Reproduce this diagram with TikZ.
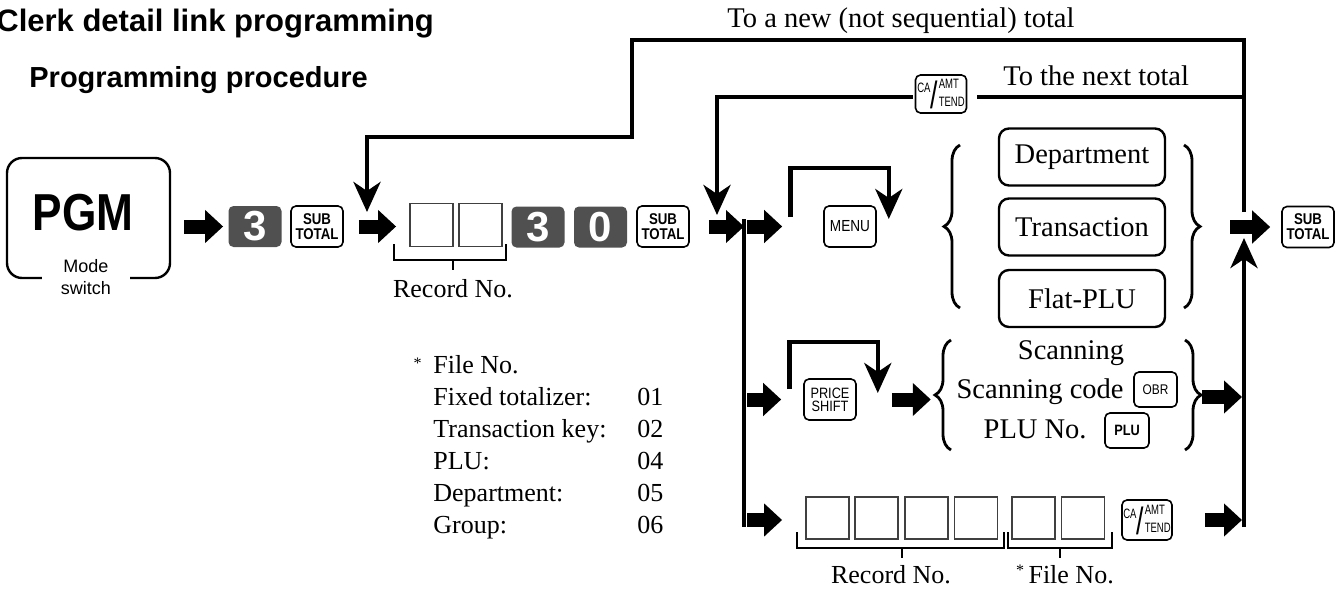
\documentclass[tikz,border=0pt]{standalone}
\usepackage{fontspec}
\setmainfont{Liberation Serif}
\setsansfont{Liberation Sans}
\newfontfamily\condsans[FakeStretch=0.85]{Liberation Sans}
\newfontfamily\narrowsans[FakeStretch=0.7]{Liberation Sans}
\usetikzlibrary{arrows.meta,decorations.pathreplacing}
\definecolor{keygray}{RGB}{80,80,80}
% CA/AMT/TEND key face
\newcommand{\catend}{\raisebox{7.2pt}{CA}\kern0.2pt\raisebox{-0.8pt}{\fontsize{19}{19}\selectfont/}\kern0.2pt\shortstack[l]{AMT\\[1.2pt]TEND}}
\begin{document}
\begin{tikzpicture}[x=0.5pt,y=-0.5pt,
  every node/.style={inner sep=0pt},
  flow/.style={line width=2.3pt},
  arrowend/.style={-{Stealth[length=15pt,width=13.5pt,inset=4.5pt]}},
  fat/.style={line width=7pt,-{Triangle[length=9pt,width=16pt]}},
  keycap/.style={draw,line width=0.8pt,rounded corners=2.5pt,fill=white,minimum width=26pt,minimum height=20.5pt,align=center},
  subfont/.style={font=\condsans\bfseries\fontsize{7.8}{7.6}\selectfont},
  cafont/.style={font=\narrowsans\fontsize{6.8}{6.8}\selectfont},
  numkey/.style={fill=keygray,rounded corners=2.5pt,minimum width=26.5pt,minimum height=20.5pt,text=white,font=\sffamily\bfseries\fontsize{21}{21}\selectfont},
  entrybox/.style={draw=black!75,line width=0.9pt,minimum width=21.5pt,minimum height=21.5pt},
  choice/.style={draw,line width=1.2pt,rounded corners=5pt,minimum width=83pt,minimum height=28.5pt,font=\fontsize{14.25}{17}\selectfont},
  bracket/.style={line width=1.1pt},
  curly/.style={decorate,decoration={brace,amplitude=8pt},line width=1.4pt},
  bigtext/.style={font=\fontsize{14.25}{17}\selectfont},
  smalltext/.style={font=\fontsize{13}{16}\selectfont}]
\useasboundingbox (0,0) rectangle (1335,589);

% headings
\node[anchor=base west,font=\sffamily\bfseries\fontsize{15.5}{18}\selectfont] (title) at (-4,32) {Clerk detail link programming};
\node[anchor=base west,font=\sffamily\bfseries\fontsize{14.5}{17}\selectfont] (subtitle) at (29,87) {Programming procedure};

% mode switch
\node[draw,line width=1.2pt,rounded corners=7.5pt,minimum width=81.5pt,minimum height=60pt] (pgm) at (88.5,218) {};
\node[font=\condsans\bfseries\fontsize{26}{26}\selectfont] (pgmtxt) at (83,212.5) {PGM};
\node[fill=white,align=center,minimum width=44pt,inner ysep=1pt,font=\sffamily\fontsize{9}{11}\selectfont] (mode) at (86,277) {Mode\\switch};

% first row
\node[numkey] (k3) at (255,226.5) {3};
\node[keycap,subfont] (sub1) at (317,226.5) {SUB\\TOTAL};
\node[entrybox] (rec1) at (431.5,225) {};
\node[entrybox] (rec2) at (480.5,225) {};
\node[numkey] (k3b) at (538,227) {3};
\node[numkey] (k0) at (600.5,227) {0};
\node[keycap,subfont] (sub2) at (663,226.5) {SUB\\TOTAL};
\draw[bracket] (394,244) |- (506,260) -- (506,244);
\draw[bracket] (453,260) -- (453,270);
\node[smalltext,anchor=base] (recno1) at (453,297) {Record No.};

\draw[fat] ([xshift=6.5pt]pgm.east |- k3) -- ([xshift=-2.5pt]k3.west);
\draw[fat] ([xshift=7.5pt]sub1.east) -- ([xshift=-6.5pt]rec1.west |- sub1);

% junctions
\coordinate (jtop) at (744,219);
\coordinate (jbot) at (744,527);
\coordinate (rtop) at (1244,40);
\coordinate (rdown) at (1244,212);
\coordinate (rup) at (1244,238);
\coordinate (rbot) at (1244,527);
\coordinate (steptop) at (632,40);
\coordinate (stepbot) at (632,137);
\coordinate (ltop) at (367,137);
\coordinate (lend) at (367,212);
\coordinate (rnext) at (1244,97);
\coordinate (nxcorner) at (717,97);
\coordinate (nxend) at (717,215);

\draw[fat] ([xshift=9.5pt]sub2.east) -- (jtop |- sub2);
\draw[flow] (jtop) -- (jbot);
\draw[flow,arrowend] (rdown) -- (rtop) -- (steptop) -- (stepbot) -- (ltop) -- (lend);
\draw[flow,arrowend] (rbot) -- (rup);

% next total
\node[keycap,cafont,minimum width=25.5pt,minimum height=19pt] (catop) at (941,94) {\catend};
\draw[flow] (rnext) -- ([xshift=5pt]catop.east |- rnext);
\draw[flow,arrowend] ([xshift=-1pt]catop.west |- rnext) -- (nxcorner) -- (nxend);
\node[bigtext,anchor=base] (newtot) at (901,27) {To a new (not sequential) total};
\node[bigtext,anchor=base west] (nexttot) at (1003,85) {To the next total};

% menu branch
\node[keycap,font=\condsans\fontsize{8}{8}\selectfont] (menu) at (850,226.5) {MENU};
\draw[fat] ([xshift=1.5pt]jtop |- menu) -- ([xshift=-20.5pt]menu.west);
\draw[flow,arrowend] ([xshift=-16.5pt,yshift=4.75pt]menu.west) -- ++(0,-49) -| ([xshift=6pt,yshift=3.75pt]menu.east);
\draw[curly] (960,308) -- (960,145);
\node[choice] (dept) at (1082,157) {Department};
\node[choice] (trans) at (1082,227) {Transaction};
\node[choice] (flat) at (1082,298.5) {Flat-PLU};
\draw[curly] (1184,145) -- (1184,308);

\node[keycap,subfont] (sub3) at (1308,227) {SUB\\TOTAL};
\draw[fat] ([xshift=-25.5pt]sub3.west) -- ([xshift=-5.5pt]sub3.west);

% scanning branch
\node[keycap,font=\condsans\fontsize{7.5}{6.5}\selectfont] (pshift) at (830,399.5) {PRICE\\SHIFT};
\draw[fat] ([xshift=1.5pt]jtop |- pshift) -- ([xshift=-11pt]pshift.west);
\draw[flow,arrowend] ([xshift=-7pt,yshift=5.25pt]pshift.west) -- ++(0,-47) -| ([xshift=10.5pt,yshift=3.25pt]pshift.east);
\draw[fat] ([xshift=17.5pt]pshift.east) -- ([xshift=37pt]pshift.east);
\draw[curly] (951,450) -- (951,340);
\node[bigtext,anchor=base] (scan) at (1071,359) {Scanning};
\node[bigtext,anchor=base east] (scode) at (1124,398) {Scanning code};
\node[keycap,font=\condsans\fontsize{7}{7}\selectfont,minimum width=21.5pt,minimum height=17.5pt] (obr) at (1155.5,389.5) {OBR};
\node[bigtext,anchor=base east] (pluno) at (1087,438) {PLU No.};
\node[keycap,font=\condsans\bfseries\fontsize{7.5}{7.5}\selectfont,minimum width=22pt,minimum height=17.5pt] (plu) at (1127,430.5) {PLU};
\draw[curly] (1185,340) -- (1185,450);
\coordinate (scanout) at (1202,397);
\draw[fat] (scanout) -- ([xshift=-1pt]rbot |- scanout);

% record/file branch
\foreach \x [count=\i] in {827.5,876.5,926.5,976}
  \node[entrybox,minimum height=21pt] (rb\i) at (\x,518) {};
\foreach \x [count=\i] in {1033.5,1083}
  \node[entrybox,minimum height=21pt] (fb\i) at (\x,518) {};
\node[keycap,cafont,minimum width=25pt,minimum height=20pt] (cabot) at (1147,520) {\catend};
\draw[fat] ([xshift=1.5pt]jtop |- cabot) -- ([xshift=-11.5pt]rb1.west |- cabot);
\draw[fat] ([xshift=16pt]cabot.east) -- ([xshift=-1pt]rbot |- cabot);
\draw[bracket] (797,532) |- (1004,548) -- (1004,532);
\draw[bracket] (902,548) -- (902,558);
\draw[bracket] (1008,532) |- (1112,548) -- (1112,532);
\draw[bracket] (1060,548) -- (1060,558);
\node[smalltext,anchor=base] (recno2) at (891,583) {Record No.};
\node[smalltext,anchor=base] (fileno2) at (1065,583) {\raisebox{4pt}{\fontsize{8}{8}\selectfont *}\,File No.};

% file number list
\node[anchor=base,font=\fontsize{8}{8}\selectfont] (ast) at (417.5,368) {*};
\node[smalltext,anchor=base west] (filehd) at (433,373) {File No.};
\foreach \lab/\num [count=\i] in {Fixed totalizer:/01, Transaction key:/02, PLU:/04, Department:/05, Group:/06} {
  \node[smalltext,anchor=base west] (fl\i) at (433,373+32*\i) {\lab};
  \node[smalltext,anchor=base west] (fn\i) at (637,373+32*\i) {\num};
}
\end{tikzpicture}
\end{document}
